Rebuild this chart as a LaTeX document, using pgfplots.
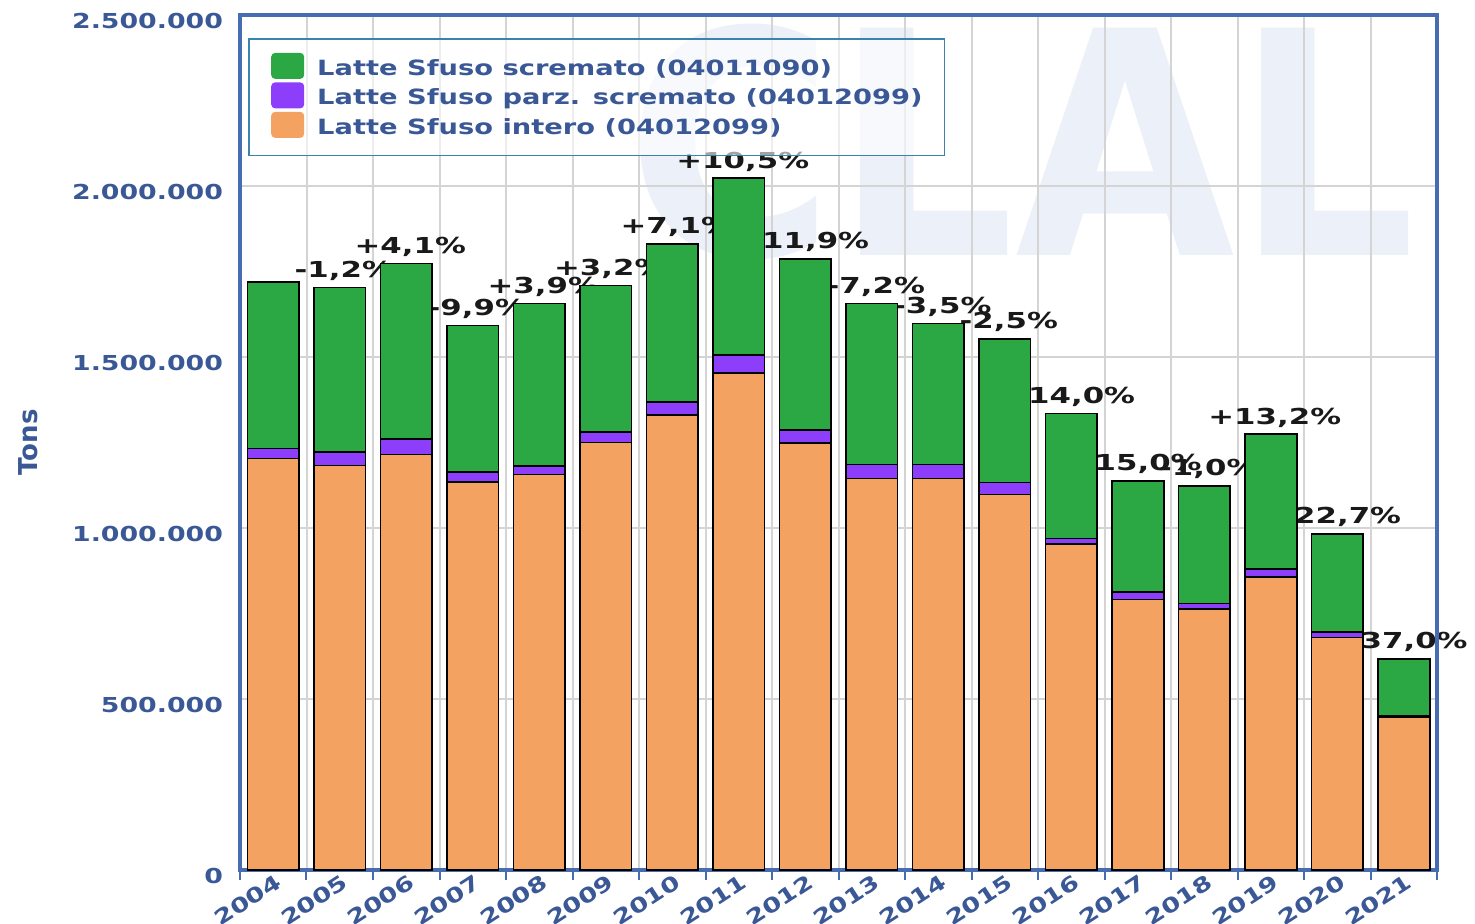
\documentclass[border=0pt]{standalone}
\usepackage{pgfplots}
\pgfplotsset{compat=1.18}
\usepackage{pgfplotstable}
\usepackage{fontspec}
\setmainfont{DejaVu Sans}
\newfontfamily\widefont[FakeStretch=1.3]{DejaVu Sans}
\newfontfamily\labfont[FakeStretch=1.4]{DejaVu Sans}
\definecolor{cgreen}{RGB}{43,168,68}
\definecolor{cpurple}{RGB}{140,62,250}
\definecolor{corange}{RGB}{244,162,98}
\definecolor{textblue}{RGB}{58,88,150}
\definecolor{frameblue}{RGB}{72,108,178}
\definecolor{legblue}{RGB}{60,130,175}
\definecolor{wmark}{RGB}{236,240,249}
\definecolor{gridgray}{RGB}{212,212,212}

\pgfplotstableread{
idx intero parz screm tot lab
0 1203800 29200 487100 1720100 {}
1 1182200 40900 480700 1703800 -1,2\%
2 1215500 44700 513700 1773900 +4,1\%
3 1134500 29000 428700 1592200 -9,9\%
4 1157000 25100 474900 1657000 +3,9\%
5 1250600 31000 426900 1708500 +3,2\%
6 1330400 38900 461100 1830400 +7,1\%
7 1452400 53500 516700 2022600 +10,5\%
8 1247700 38900 500000 1786600 -11,9\%
9 1145300 40900 470800 1657000 -7,2\%
10 1145300 40900 412300 1598500 -3,5\%
11 1098500 35100 419000 1552600 -2,5\%
12 952400 17500 365500 1335400 -14,0\%
13 791500 22200 324600 1138300 -15,0\%
14 764000 15800 343000 1122800 -1,0\%
15 855900 23400 394700 1274000 +13,2\%
16 680400 16400 285700 982500 -22,7\%
17 446500 4700 165800 617000 -37,0\%
}\data

\begin{document}
\begin{tikzpicture}
\useasboundingbox (-120pt,-26.5pt) rectangle (617.5pt,435pt);
% watermark
\node[anchor=base, text=wmark, inner sep=0pt] at (390.5pt,307.5pt)
  {\scalebox{0.91}[1]{\fontsize{156}{156}\selectfont\bfseries CLAL}};
% background axis: grid + percentage labels
\begin{axis}[
  scale only axis, width=598.5pt, height=427.5pt,
  xmin=-0.5, xmax=17.5, ymin=0, ymax=2500000,
  xtick={-0.5,0.5,...,17.5},
  ytick={0,500000,1000000,1500000,2000000,2500000},
  xticklabel style={opacity=0}, yticklabel style={opacity=0},
  scaled y ticks=false,
  major tick length=0pt,
  axis line style={draw=none},
  grid=major,
  major grid style={draw=gridgray, line width=1pt},
]
\addplot[draw=none, mark=none, nodes near coords, point meta=explicit symbolic,
  every node near coord/.style={anchor=south, xshift=2pt, yshift=0pt,
    font=\labfont\bfseries\fontsize{11}{13}\selectfont, text={rgb,255:red,25;green,25;blue,25}}]
  table[x=idx, y=tot, meta=lab] {\data};
\end{axis}
% foreground axis: bars, ticks, legend
\begin{axis}[
  scale only axis, width=598.5pt, height=427.5pt,
  xmin=-0.5, xmax=17.5, ymin=0, ymax=2500000,
  ybar stacked, bar width=0.78,
  xtick={0,...,17},
  xticklabels={2004,2005,2006,2007,2008,2009,2010,2011,2012,2013,2014,2015,2016,2017,2018,2019,2020,2021},
  minor xtick={-0.5,0.5,...,17.5},
  ytick={0,500000,1000000,1500000,2000000,2500000},
  yticklabels={0,500.000,1.000.000,1.500.000,2.000.000,2.500.000},
  scaled y ticks=false,
  major tick length=0pt,
  minor tick length=5pt,
  tick align=outside,
  xtick pos=bottom, ytick pos=left,
  minor x tick style={draw=frameblue, line width=1pt},
  axis line style={draw=frameblue, line width=1.8pt},
  tick label style={font=\widefont\bfseries\fontsize{10.3}{12}\selectfont, text=textblue},
  xticklabel style={rotate=33, anchor=north east, inner sep=0pt, yshift=-1.5pt,
    font=\widefont\bfseries\fontsize{10.3}{12}\selectfont},
  yticklabel style={anchor=east, xshift=-5pt, yshift=-3pt},
  ylabel={Tons},
  ylabel style={at={(axis description cs:-0.177,0.5)}, anchor=center,
    font=\bfseries\fontsize{13}{15}\selectfont, text=textblue},
  legend style={at={(rel axis cs:0.007,0.973)}, anchor=north west,
    draw=legblue, line width=0.8pt, fill=white, fill opacity=0.6, text opacity=1, draw opacity=1,
    inner xsep=9pt, inner ysep=7pt, row sep=0pt,
    font=\widefont\bfseries\fontsize{10.5}{13}\selectfont, text=textblue},
  legend cell align=left,
  reverse legend,
  legend image code/.code={\path[draw=none,fill=none] (-1pt,0pt) -- (22pt,0pt);
    \fill[#1,/tikz/.cd,draw=none,fill opacity=1,rounded corners=2pt] (1pt,-0.5em) rectangle (17.5pt,0.8em);},
]
\addplot[fill=corange, draw=black, line width=0.8pt] table[x=idx, y=intero] {\data};
\addlegendentry{Latte Sfuso intero (04012099)}
\addplot[fill=cpurple, draw=black, line width=0.8pt] table[x=idx, y=parz] {\data};
\addlegendentry{Latte Sfuso parz. scremato (04012099)}
\addplot[fill=cgreen, draw=black, line width=0.8pt] table[x=idx, y=screm] {\data};
\addlegendentry{Latte Sfuso scremato (04011090)}
\end{axis}
\end{tikzpicture}
\end{document}
